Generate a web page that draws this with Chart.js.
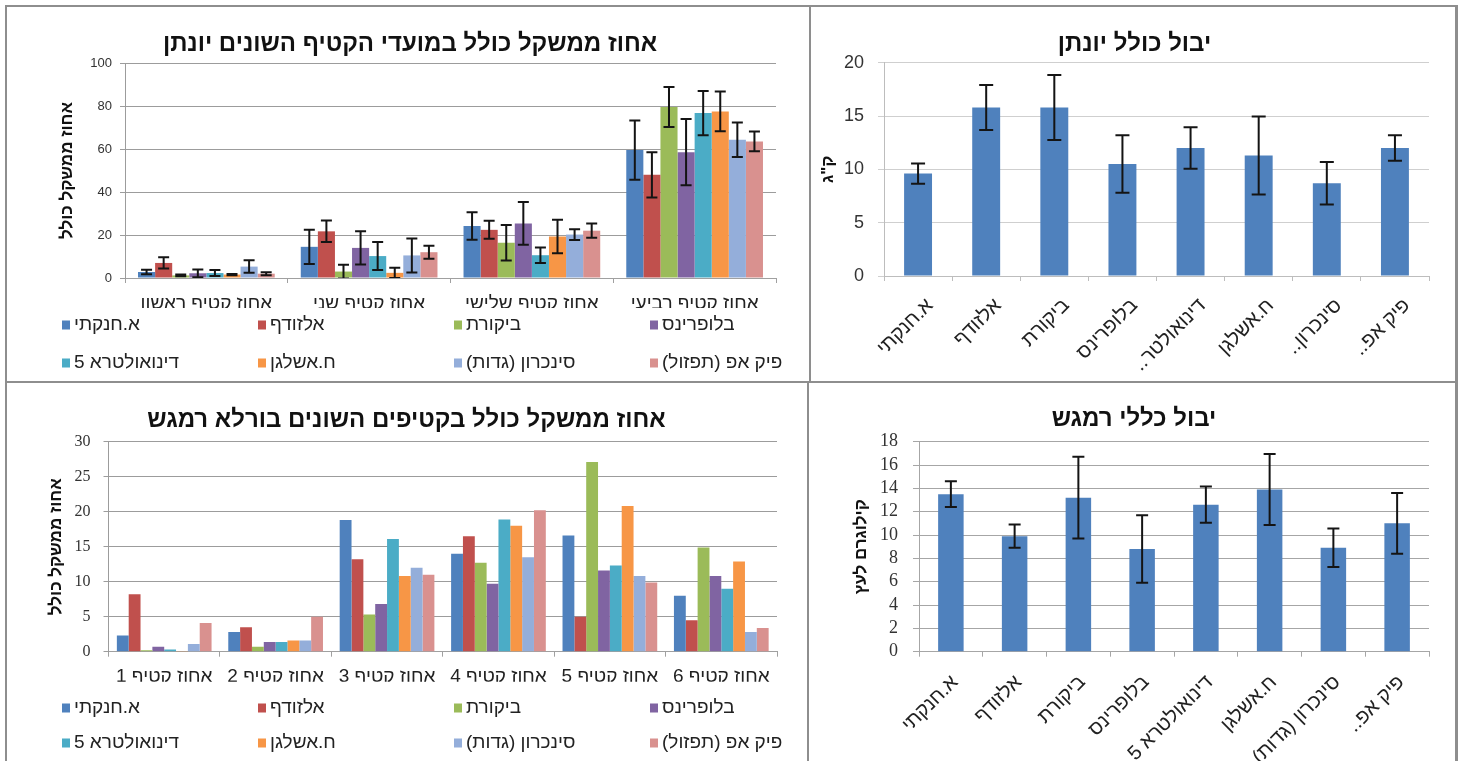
<!DOCTYPE html>
<html lang="he">
<head>
<meta charset="utf-8">
<title>יבול ואחוז ממשקל - יונתן ובורלא רמגש</title>
<script src="https://cdn.jsdelivr.net/npm/chart.js@4.4.1/dist/chart.umd.min.js"></script>
<style>
  html, body { margin: 0; padding: 0; background: #fff; }
  #page { position: relative; width: 1460px; height: 761px; overflow: hidden; background: #fff; }
  .rule { position: absolute; background: #8e8e8e; }
  canvas { position: absolute; }
</style>
</head>
<body>
<div id="page">
  <div class="rule" style="left:5px;top:5px;width:1453px;height:2px"></div>
  <div class="rule" style="left:5px;top:5px;width:2px;height:756px"></div>
  <div class="rule" style="left:1455px;top:5px;width:3px;height:756px"></div>
  <div class="rule" style="left:809px;top:5px;width:2px;height:378px"></div>
  <div class="rule" style="left:807px;top:381px;width:2px;height:380px"></div>
  <div class="rule" style="left:5px;top:381px;width:1453px;height:2px"></div>

  <canvas id="yonatanHarvest" dir="rtl" width="802" height="374" style="left:7px;top:7px"></canvas>
  <canvas id="yonatanYield" dir="rtl" width="644" height="374" style="left:811px;top:7px"></canvas>
  <canvas id="ramgashHarvest" dir="rtl" width="800" height="378" style="left:7px;top:383px"></canvas>
  <canvas id="ramgashYield" dir="rtl" width="646" height="378" style="left:809px;top:383px"></canvas>
</div>

<script>
// ---- treatments (fertilizer varieties) ----
const varieties = ['א.חנקתי', 'אלזודף', 'ביקורת', 'בלופרינס', 'דינואולטרא 5', 'ח.אשלגן', 'סינכרון (גדות)', 'פיק אפ (תפזול)'];
const yonatanAxisLabels = ['א.חנקתי', 'אלזודף', 'ביקורת', 'בלופרינס', 'דינואולטר..', 'ח.אשלגן', 'סינכרון..', 'פיק אפ..'];
const ramgashAxisLabels = ['א.חנקתי', 'אלזודף', 'ביקורת', 'בלופרינס', 'דינואולטרא 5', 'ח.אשלגן', 'סינכרון (גדות)', 'פיק אפ..'];

// ---- Yonatan: share of total weight per harvest date (%) ----
const yonatanHarvests = ['אחוז קטיף ראשון', 'אחוז קטיף שני', 'אחוז קטיף שלישי', 'אחוז קטיף רביעי'];
const yonatanChanakti   = [2.8, 14.5, 24.2, 59.5];
const yonatanAlzodef    = [7.0, 21.7, 22.4, 48.0];
const yonatanControl    = [1.2, 3.0, 16.4, 79.5];
const yonatanBlueprins  = [2.2, 14.0, 25.4, 58.5];
const yonatanDynaultra  = [2.3, 10.2, 10.6, 76.7];
const yonatanAshlagan   = [1.6, 2.4, 19.3, 77.5];
const yonatanSynchron   = [5.3, 10.5, 20.2, 64.3];
const yonatanPickUp     = [2.0, 12.0, 22.0, 63.5];
const yonatanChanaktiErr  = [1.0, 8.0, 6.4, 13.8];
const yonatanAlzodefErr   = [2.6, 5.0, 4.2, 10.5];
const yonatanControlErr   = [0.4, 3.2, 8.3, 9.3];
const yonatanBlueprinsErr = [1.8, 7.7, 9.9, 15.4];
const yonatanDynaultraErr = [1.4, 6.5, 3.6, 10.3];
const yonatanAshlaganErr  = [0.3, 2.4, 7.8, 9.3];
const yonatanSynchronErr  = [2.9, 7.9, 2.5, 8.0];
const yonatanPickUpErr    = [0.7, 3.0, 3.3, 4.6];

// ---- Yonatan: total yield (kg) ----
const yonatanTotal    = [9.6, 15.8, 15.8, 10.5, 12.0, 11.3, 8.7, 12.0];
const yonatanTotalErr = [0.95, 2.1, 3.05, 2.7, 1.95, 3.65, 2.0, 1.2];

// ---- Burla Ramgash: share of total weight per harvest (%) ----
const ramgashHarvests = ['אחוז קטיף 1', 'אחוז קטיף 2', 'אחוז קטיף 3', 'אחוז קטיף 4', 'אחוז קטיף 5', 'אחוז קטיף 6'];
const ramgashChanakti  = [2.3, 2.8, 18.8, 14.0, 16.6, 8.0];
const ramgashAlzodef   = [8.2, 3.5, 13.2, 16.5, 5.0, 4.5];
const ramgashControl   = [0.2, 0.7, 5.3, 12.7, 27.1, 14.9];
const ramgashBlueprins = [0.7, 1.4, 6.8, 9.7, 11.6, 10.8];
const ramgashDynaultra = [0.3, 1.4, 16.1, 18.9, 12.3, 9.0];
const ramgashAshlagan  = [0.1, 1.6, 10.8, 18.0, 20.8, 12.9];
const ramgashSynchron  = [1.1, 1.6, 12.0, 13.5, 10.8, 2.8];
const ramgashPickUp    = [4.1, 5.0, 11.0, 20.2, 9.9, 3.4];

// ---- Ramgash: total yield (kg per tree) ----
const ramgashTotal    = [13.5, 9.9, 13.2, 8.8, 12.6, 13.9, 8.9, 11.0];
const ramgashTotalErr = [1.1, 1.0, 3.5, 2.9, 1.55, 3.05, 1.65, 2.6];

// ---- tick values ----
const yonatanPctTicks = { min: 0, max: 100, step: 20 };
const yonatanKgTicks = { min: 0, max: 20, step: 5 };
const ramgashPctTicks = { min: 0, max: 30, step: 5 };
const ramgashKgTicks = { min: 0, max: 18, step: 2 };

// series palette (Office style)
const seriesColors = ['#4F81BD', '#C0504D', '#9BBB59', '#8064A2', '#4BACC6', '#F79646', '#94AEDA', '#D9918F'];

const SANS = "'Liberation Sans', Arial, sans-serif";
const SERIF = "'Liberation Serif', 'Times New Roman', serif";
Chart.defaults.font.family = SANS;
Chart.defaults.color = '#222';
Chart.defaults.animation = false;

// panel heading, centred on the whole panel rather than on the plot
const panelTitle = {
  id: 'panelTitle',
  afterDraw(chart, args, o) {
    const ctx = chart.ctx;
    ctx.save();
    ctx.font = 'bold 24px ' + SANS;
    ctx.fillStyle = '#111';
    ctx.textAlign = 'center';
    ctx.textBaseline = 'middle';
    ctx.fillText(o.text, o.x, o.y);
    ctx.restore();
  }
};

// vertical error bars with caps, drawn from each dataset's "errors" array
const errorBars = {
  id: 'errorBars',
  afterDatasetsDraw(chart, args, o) {
    const { ctx, chartArea: a } = chart;
    const ys = chart.scales.y;
    ctx.save();
    ctx.beginPath();
    ctx.rect(a.left, 0, a.right - a.left, a.bottom);
    ctx.clip();
    ctx.strokeStyle = o.color || '#111';
    ctx.lineWidth = o.lineWidth || 2;
    chart.data.datasets.forEach((ds, di) => {
      if (!ds.errors) return;
      chart.getDatasetMeta(di).data.forEach((bar, i) => {
        const v = ds.data[i], e = ds.errors[i];
        if (e == null) return;
        const yt = ys.getPixelForValue(v + e);
        const yb = ys.getPixelForValue(v - e);
        const x = bar.x, h = (o.capWidth || 10) / 2;
        ctx.beginPath();
        ctx.moveTo(x, yt); ctx.lineTo(x, yb);
        ctx.moveTo(x - h, yt); ctx.lineTo(x + h, yt);
        ctx.moveTo(x - h, yb); ctx.lineTo(x + h, yb);
        ctx.stroke();
      });
    });
    ctx.restore();
  }
};

// legend laid out as a fixed grid of columns under the plot
const gridLegend = {
  id: 'gridLegend',
  afterDraw(chart, args, o) {
    if (!o.display) return;
    const ctx = chart.ctx;
    ctx.save();
    ctx.font = o.font;
    ctx.textBaseline = 'middle';
    ctx.textAlign = 'left';
    chart.data.datasets.forEach((ds, i) => {
      const col = i % o.columns, row = Math.floor(i / o.columns);
      const x = o.left + col * o.colWidth;
      const y = o.top + row * o.rowHeight;
      ctx.fillStyle = ds.backgroundColor;
      ctx.fillRect(x, y - o.box / 2, o.box - 1, o.box);
      ctx.fillStyle = o.color;
      ctx.fillText(ds.label, x + o.box + o.gap, y);
    });
    ctx.restore();
  }
};

function valueAxis(t, o) {
  return {
    min: t.min, max: t.max,
    ticks: { stepSize: t.step, autoSkip: false, font: o.tickFont, color: o.tickColor || '#333', padding: o.tickPad },
    grid: { color: o.gridColor, lineWidth: o.gridWidth || 1, tickLength: o.tickLen, drawTicks: true },
    border: { color: o.axisColor || o.gridColor, width: 1 },
    title: { display: true, text: o.title, font: { size: 17, weight: 'bold' }, color: '#111', padding: { top: o.titlePad, bottom: 0 } },
    afterFit(s) { s.width = o.width; }
  };
}

function categoryAxis(o) {
  return {
    ticks: { font: { size: o.fontSize }, color: '#222', padding: o.tickPad, autoSkip: false,
             labelOffset: o.labelOffset || 0, minRotation: o.rotation, maxRotation: o.rotation },
    grid: { drawOnChartArea: false, drawTicks: true, tickLength: 5, color: o.axisColor, offset: true },
    border: { color: o.axisColor, width: 1 },
    afterFit(s) { s.height = o.height; }
  };
}

// ---------- Yonatan: % by harvest date ----------
const yonatanSeries = [yonatanChanakti, yonatanAlzodef, yonatanControl, yonatanBlueprins,
                       yonatanDynaultra, yonatanAshlagan, yonatanSynchron, yonatanPickUp];
const yonatanSeriesErr = [yonatanChanaktiErr, yonatanAlzodefErr, yonatanControlErr, yonatanBlueprinsErr,
                          yonatanDynaultraErr, yonatanAshlaganErr, yonatanSynchronErr, yonatanPickUpErr];

new Chart(document.getElementById('yonatanHarvest'), {
  type: 'bar',
  data: {
    labels: yonatanHarvests,
    datasets: yonatanSeries.map((d, i) => ({
      label: varieties[i], data: d, errors: yonatanSeriesErr[i],
      backgroundColor: seriesColors[i], borderWidth: 0,
      categoryPercentage: 0.84, barPercentage: 1
    }))
  },
  options: {
    responsive: false,
    layout: { padding: { left: 0, right: 33, top: 56, bottom: 73 } },
    plugins: {
      legend: { display: false }, tooltip: { enabled: false }, title: { display: false },
      panelTitle: { text: 'אחוז ממשקל כולל במועדי הקטיף השונים יונתן', x: 403, y: 37 },
      errorBars: { capWidth: 11, lineWidth: 2, color: '#141414' },
      gridLegend: { display: true, left: 55, top: 318, columns: 4, colWidth: 196, rowHeight: 38,
                    box: 9, gap: 3, font: "19px " + SANS, color: '#222' }
    },
    scales: {
      x: categoryAxis({ fontSize: 19, tickPad: 9.6, rotation: 0, axisColor: '#a0a0a0', height: 30 }),
      y: valueAxis(yonatanPctTicks, { tickFont: { size: 13 }, tickPad: 8, tickLen: 5, gridColor: '#9c9c9c',
                                       title: 'אחוז ממשקל כולל', titlePad: 50.5, width: 118 })
    }
  },
  plugins: [errorBars, gridLegend, panelTitle]
});

// ---------- Yonatan: total yield ----------
new Chart(document.getElementById('yonatanYield'), {
  type: 'bar',
  data: {
    labels: yonatanAxisLabels,
    datasets: [{ label: 'יבול כולל', data: yonatanTotal, errors: yonatanTotalErr,
                 backgroundColor: seriesColors[0], borderWidth: 0, categoryPercentage: 1, barPercentage: 0.41 }]
  },
  options: {
    responsive: false,
    layout: { padding: { left: 0, right: 26, top: 55.7, bottom: 0 } },
    plugins: {
      legend: { display: false }, tooltip: { enabled: false }, title: { display: false },
      panelTitle: { text: 'יבול כולל יונתן', x: 323.5, y: 37 },
      errorBars: { capWidth: 14, lineWidth: 2, color: '#141414' }
    },
    scales: {
      x: categoryAxis({ fontSize: 20, tickPad: 13, labelOffset: 12, rotation: 45, axisColor: '#bdbdbd', height: 105 }),
      y: valueAxis(yonatanKgTicks, { tickFont: { size: 18 }, tickPad: 14, tickLen: 6, gridColor: '#cfcfcf',
                                      axisColor: '#bdbdbd', title: 'ק"ג', titlePad: 7.5, width: 73 })
    }
  },
  plugins: [errorBars, panelTitle]
});

// ---------- Burla Ramgash: % by harvest ----------
const ramgashSeries = [ramgashChanakti, ramgashAlzodef, ramgashControl, ramgashBlueprins,
                       ramgashDynaultra, ramgashAshlagan, ramgashSynchron, ramgashPickUp];

new Chart(document.getElementById('ramgashHarvest'), {
  type: 'bar',
  data: {
    labels: ramgashHarvests,
    datasets: ramgashSeries.map((d, i) => ({
      label: varieties[i], data: d,
      backgroundColor: seriesColors[i], borderWidth: 0,
      categoryPercentage: 0.85, barPercentage: 1
    }))
  },
  options: {
    responsive: false,
    layout: { padding: { left: 0, right: 30, top: 58.7, bottom: 79.3 } },
    plugins: {
      legend: { display: false }, tooltip: { enabled: false }, title: { display: false },
      panelTitle: { text: 'אחוז ממשקל כולל בקטיפים השונים בורלא רמגש', x: 399.5, y: 37.5 },
      gridLegend: { display: true, left: 55, top: 325, columns: 4, colWidth: 196, rowHeight: 35,
                    box: 9, gap: 3, font: "19px " + SANS, color: '#222' }
    },
    scales: {
      x: categoryAxis({ fontSize: 19, tickPad: 8.4, rotation: 0, axisColor: '#a0a0a0', height: 30 }),
      y: valueAxis(ramgashPctTicks, { tickFont: { size: 16, family: SERIF }, tickPad: 13, tickLen: 5,
                                       gridColor: '#9c9c9c', title: 'אחוז ממשקל כולל', titlePad: 39, width: 101.5 })
    }
  },
  plugins: [gridLegend, panelTitle]
});

// ---------- Ramgash: total yield ----------
new Chart(document.getElementById('ramgashYield'), {
  type: 'bar',
  data: {
    labels: ramgashAxisLabels,
    datasets: [{ label: 'יבול כללי', data: ramgashTotal, errors: ramgashTotalErr,
                 backgroundColor: seriesColors[0], borderWidth: 0, categoryPercentage: 1, barPercentage: 0.4 }]
  },
  options: {
    responsive: false,
    layout: { padding: { left: 0, right: 26, top: 58.7, bottom: 0 } },
    plugins: {
      legend: { display: false }, tooltip: { enabled: false }, title: { display: false },
      panelTitle: { text: 'יבול כללי רמגש', x: 325, y: 36.5 },
      errorBars: { capWidth: 12, lineWidth: 2, color: '#141414' }
    },
    scales: {
      x: categoryAxis({ fontSize: 20, tickPad: 14, labelOffset: 4, rotation: 45, axisColor: '#a6a6a6', height: 109.3 }),
      y: valueAxis(ramgashKgTicks, { tickFont: { size: 18, family: SERIF }, tickPad: 15, tickLen: 6,
                                      gridColor: '#a6a6a6', title: 'קילוגרם לעץ', titlePad: 42.5, width: 110 })
    }
  },
  plugins: [errorBars, panelTitle]
});
</script>
</body>
</html>
